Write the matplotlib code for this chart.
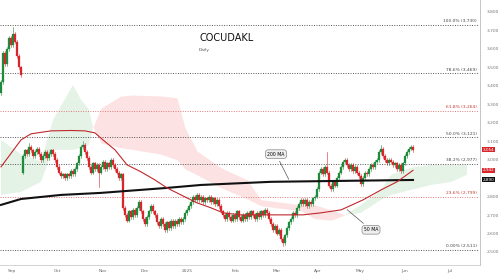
## cocudakl_daily.py
# daily candles with 50/200 MA, fib retracements and cloud shading

import numpy as np
import matplotlib.pyplot as plt
from matplotlib.patches import Rectangle
import matplotlib.transforms as mtransforms

#======= data =============================#

# closing price per trading day (day 0 = late Aug 2024)
closes = [3.42, 3.58, 3.52, 3.60, 3.66, 3.62, 3.68, 3.64, 3.56, 3.50, 3.46,
          3.02, 3.05, 3.03, 3.07, 3.05, 3.02, 3.04, 3.06, 3.03, 3.00, 3.02,
          3.04, 3.01, 3.03, 3.05, 3.03, 3.00, 2.96, 2.93, 2.91, 2.92, 2.90,
          2.92, 2.91, 2.94, 2.92, 2.95, 2.98, 3.02, 3.07, 3.08, 3.04, 3.01,
          2.96, 2.93, 2.98, 2.95, 2.97, 2.93, 2.96, 2.99, 2.95, 2.98, 2.96,
          3.00, 2.97, 2.95, 2.93, 2.90, 2.92, 2.74, 2.70, 2.67, 2.72, 2.69,
          2.73, 2.70, 2.74, 2.77, 2.72, 2.68, 2.65, 2.69, 2.72, 2.75, 2.72,
          2.70, 2.66, 2.64, 2.68, 2.65, 2.62, 2.66, 2.63, 2.67, 2.64, 2.67,
          2.65, 2.68, 2.66, 2.68, 2.71, 2.73, 2.75, 2.77, 2.80, 2.78, 2.81,
          2.78, 2.80, 2.77, 2.79, 2.78, 2.80, 2.77, 2.79, 2.76, 2.78, 2.75,
          2.72, 2.70, 2.68, 2.71, 2.69, 2.67, 2.70, 2.68, 2.72, 2.69, 2.67,
          2.70, 2.68, 2.71, 2.69, 2.72, 2.70, 2.68, 2.71, 2.69, 2.72, 2.70,
          2.73, 2.71, 2.68, 2.65, 2.62, 2.64, 2.60, 2.62, 2.57, 2.55, 2.59,
          2.63, 2.66, 2.68, 2.71, 2.70, 2.74, 2.76, 2.78, 2.76, 2.78, 2.75,
          2.77, 2.76, 2.79, 2.80, 2.84, 2.93, 2.95, 2.92, 2.96, 2.93, 2.86,
          2.84, 2.88, 2.86, 2.90, 2.93, 2.96, 2.99, 3.00, 2.97, 2.95, 2.97,
          2.94, 2.96, 2.93, 2.91, 2.87, 2.90, 2.93, 2.92, 2.95, 2.97, 2.96,
          2.99, 3.00, 3.04, 3.06, 3.02, 3.00, 2.98, 3.00, 2.99, 2.97, 2.98,
          2.95, 2.97, 2.94, 2.98, 3.02, 3.04, 3.06, 3.07, 3.054]

# days that open away from the previous close
gap_opens = {0: 3.36, 11: 2.93}
# notable wicks (day: high / low)
wick_highs = {6: 3.72, 14: 3.09, 41: 3.10, 163: 3.04, 190: 3.08}
wick_lows = {49: 2.85, 141: 2.53}

# moving averages, sampled (day, price)
ma50_days = [0, 10, 15, 25, 35, 42, 47, 51, 57, 63, 70, 77, 83, 90, 98, 105,
             111, 120, 135, 151, 160, 170, 181, 190, 198, 206]
ma50_vals = [2.961, 3.107, 3.140, 3.156, 3.158, 3.156, 3.145, 3.107, 3.053,
             2.972, 2.934, 2.890, 2.847, 2.809, 2.766, 2.739, 2.712, 2.701,
             2.701, 2.701, 2.712, 2.728, 2.782, 2.836, 2.880, 2.942]
ma200_days = [0, 10, 30, 50, 83, 100, 135, 170, 206]
ma200_vals = [2.755, 2.787, 2.809, 2.820, 2.847, 2.863, 2.880, 2.885, 2.890]

# cloud edges (day, span A, span B)
cloud_days = [0, 10, 20, 26, 36, 40, 44, 46, 50, 60, 66, 80, 88, 92, 98, 110,
              123, 130, 150, 157, 165, 172, 180, 190, 195, 205, 215, 225, 233]
span_a = [3.107, 3.030, 2.990, 3.215, 3.405, 3.325, 3.270, 3.177, 3.090,
          3.065, 3.055, 3.030, 2.999, 2.950, 2.918, 2.848, 2.788, 2.750,
          2.723, 2.680, 2.672, 2.701, 2.755, 2.836, 2.918, 2.956, 2.972,
          2.972, 2.972]
span_b = [2.809, 2.825, 2.880, 3.053, 3.053, 3.064, 3.080, 3.177, 3.280,
          3.345, 3.350, 3.345, 3.335, 3.172, 3.047, 2.956, 2.891, 2.783,
          2.755, 2.755, 2.728, 2.701, 2.712, 2.782, 2.809, 2.836, 2.863,
          2.879, 2.918]

# fibonacci retracements
fib_names = ['100.0%', '78.6%', '61.8%', '50.0%', '38.2%', '23.6%', '0.00%']
fib_vals = [3.730, 3.469, 3.264, 3.121, 2.977, 2.799, 2.511]
fib_red = [False, False, True, False, False, True, False]

month_labels = ['Sep', 'Oct', 'Nov', 'Dec', '2025', 'Feb', 'Mar', 'Apr', 'May', 'Jun', 'Jul']
month_days = [5.5, 28, 51, 72, 93, 117, 138, 158.5, 179.5, 202, 224.5]

# price axis labels (2,900 sits under the last-value tag)
y_ticks = [2.5, 2.6, 2.7, 2.8, 3.0, 3.1, 3.2, 3.3, 3.4, 3.5, 3.6, 3.7, 3.8]

# last values shown as tags on the price axis
tag_vals = [3.054, 2.942, 2.890]

GREEN = '#1f8a3c'
RED = '#d8262c'

def fmt(v):
    return f'{v:.3f}'.replace('.', ',')

#======= figure ==========#
fig = plt.figure(figsize=(5, 2.8), dpi=100)
ax = fig.add_axes([0, 0.054, 0.96, 0.946])
ax.set_xlim(-0.5, 239.5)
ax.set_ylim(2.430, 3.865)

# cloud
a = np.array(span_a)
b = np.array(span_b)
ax.fill_between(cloud_days, a, b, where=a >= b, interpolate=True,
                color='#5fb86a', alpha=0.16, lw=0, zorder=1)
ax.fill_between(cloud_days, a, b, where=a <= b, interpolate=True,
                color='#f07070', alpha=0.2, lw=0, zorder=1)

# fib levels
for name, v, red in zip(fib_names, fib_vals, fib_red):
    c = '#e07a7a' if red else '#555555'
    ax.plot([-0.5, 238.5], [v, v], ls=(0, (1, 1.5)), lw=0.7, color=c, zorder=2)
    ax.text(238, v + 0.008, f'{name} ({fmt(v)})', ha='right', va='bottom',
            fontsize=3.2, color='#c0392b' if red else '#444444', zorder=5)

# candles
closes = np.array(closes)
opens = np.r_[closes[0], closes[:-1]]
for d, o in gap_opens.items():
    opens[d] = o
for d in range(len(closes)):
    o, c = opens[d], closes[d]
    col = GREEN if c >= o else RED
    hi = wick_highs.get(d, max(o, c) + 0.01)
    lo = wick_lows.get(d, min(o, c) - 0.01)
    ax.plot([d, d], [lo, hi], color=col, lw=0.4, zorder=3)
    ax.add_patch(Rectangle((d - 0.35, min(o, c)), 0.7, max(abs(c - o), 0.003),
                           facecolor=col, edgecolor=col, lw=0.2, zorder=4))

# moving averages
ax.plot(ma200_days, ma200_vals, color='#111111', lw=1.5, zorder=5)
ax.plot(ma50_days, ma50_vals, color='#c0282d', lw=0.8, zorder=5)

box = dict(boxstyle='round,pad=0.4,rounding_size=0.6', fc='#eeeeee', ec='#888888', lw=0.5)
ax.annotate('200 MA', xy=(144.5, 2.880), xytext=(137.5, 3.030), fontsize=3.3,
            ha='center', va='center', bbox=box,
            arrowprops=dict(arrowstyle='-', color='#555555', lw=0.5))
ax.annotate('50 MA', xy=(172, 2.739), xytext=(185, 2.620), fontsize=3.3,
            ha='center', va='center', bbox=box,
            arrowprops=dict(arrowstyle='-', color='#555555', lw=0.5))

# title
ax.text(99, 3.66, 'COCUDAKL', fontsize=7, color='#111111', ha='left', va='center')
ax.text(99, 3.595, 'Daily', fontsize=3.2, color='#555555', ha='left', va='center')

# axes
ax.yaxis.tick_right()
ax.set_yticks(y_ticks)
ax.set_yticklabels([fmt(v) for v in y_ticks])
ax.tick_params(axis='y', length=0, labelsize=3.2, labelcolor='#777777', pad=5)
ax.set_xticks(month_days)
ax.set_xticklabels(month_labels)
ax.tick_params(axis='x', length=0, labelsize=3.2, labelcolor='#666666', pad=3)
for s in ['top', 'left']:
    ax.spines[s].set_visible(False)
ax.spines['right'].set_color('#bbbbbb')
ax.spines['bottom'].set_color('#cccccc')
ax.spines['right'].set_linewidth(0.6)
ax.spines['bottom'].set_linewidth(0.6)

# price tags on the right axis
trans = mtransforms.blended_transform_factory(ax.transAxes, ax.transData)
for v, fc in zip(tag_vals, [RED, RED, '#111111']):
    ax.text(1.006, v, fmt(v), transform=trans, fontsize=3.0, color='white',
            ha='left', va='center', clip_on=False,
            bbox=dict(boxstyle='square,pad=0.12', fc=fc, ec='none'))

fig.savefig('out.png', dpi=100)
